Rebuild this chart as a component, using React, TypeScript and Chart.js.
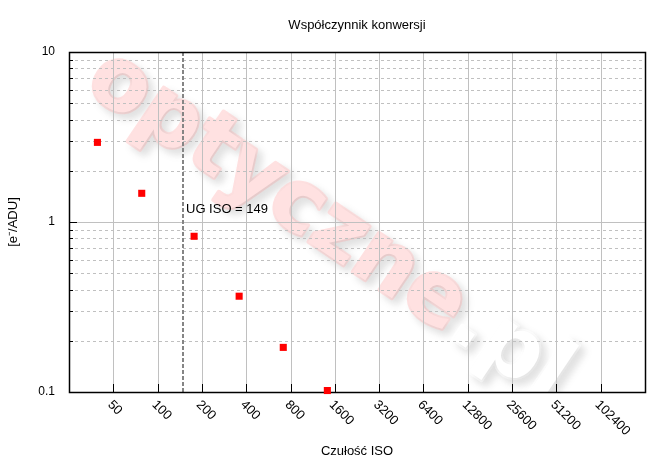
import React, { useEffect, useRef } from 'react';
import { Chart, registerables } from 'chart.js';

Chart.register(...registerables);

// ---- data ----
const isoValues = [39, 78, 177, 358, 714, 1423];
const gainValues = [2.94, 1.475, 0.824, 0.366, 0.183, 0.102];
const xTickValues = [50, 100, 200, 400, 800, 1600, 3200, 6400, 12800, 25600, 51200, 102400];
const xTickLabels = ['50', '100', '200', '400', '800', '1600', '3200', '6400', '12800', '25600', '51200', '102400'];
const yMajorTicks = [0.1, 1, 10];
const yTickLabels = ['0.1', '1', '10'];
const yMinorTicks = [0.2, 0.3, 0.4, 0.5, 0.6, 0.7, 0.8, 0.9, 2, 3, 4, 5, 6, 7, 8, 9];
const xMin = 25;
const xMax = 204800;
const yMin = 0.1;
const yMax = 10;
const unityGainIso = 149;
const unityGainLabel = 'UG ISO = 149';
const chartTitle = 'Współczynnik konwersji';
const xAxisTitle = 'Czułość ISO';
const yAxisTitle = '[e\u207B/ADU]';
const watermarkMain = 'optyczne';
const watermarkSuffix = '.pl';

const FONT = '"Liberation Sans", Arial, sans-serif';

const decorPlugin = {
  id: 'decor',
  beforeDatasetsDraw(chart: any) {
    const ctx: CanvasRenderingContext2D = chart.ctx;
    const { left, right, top, bottom } = chart.chartArea;
    const xs = chart.scales.x;
    const ys = chart.scales.y;
    const snap = (v: number) => Math.round(v) + 0.5;

    // watermark
    ctx.save();
    ctx.beginPath();
    ctx.rect(left, top, right - left, bottom - top);
    ctx.clip();
    ctx.translate(328, 228);
    ctx.rotate((34 * Math.PI) / 180);
    ctx.font = `bold 86px "DejaVu Sans", sans-serif`;
    ctx.textAlign = 'left';
    ctx.textBaseline = 'middle';
    ctx.lineJoin = 'round';
    ctx.lineWidth = 4;
    const w1 = ctx.measureText(watermarkMain).width;
    const w2 = ctx.measureText(watermarkSuffix).width;
    const x0 = -(w1 + w2) / 2;
    const parts: [string, number, string][] = [
      [watermarkMain, x0, '#ffe1e1'],
      [watermarkSuffix, x0 + w1, '#ffffff'],
    ];
    ctx.shadowColor = 'rgba(0,0,0,0.11)';
    ctx.shadowBlur = 9;
    ctx.shadowOffsetX = 5;
    ctx.shadowOffsetY = 5;
    parts.forEach(([t, x, c]) => {
      ctx.fillStyle = c;
      ctx.strokeStyle = c;
      ctx.strokeText(t, x, 0);
      ctx.fillText(t, x, 0);
    });
    ctx.restore();

    // vertical grid
    ctx.save();
    ctx.strokeStyle = '#c0c0c0';
    ctx.lineWidth = 1;
    xTickValues.forEach((v) => {
      const px = snap(xs.getPixelForValue(v));
      ctx.beginPath();
      ctx.moveTo(px, top);
      ctx.lineTo(px, bottom);
      ctx.stroke();
    });
    // major horizontal
    yMajorTicks.forEach((v) => {
      const py = snap(ys.getPixelForValue(v));
      ctx.beginPath();
      ctx.moveTo(left, py);
      ctx.lineTo(right, py);
      ctx.stroke();
    });
    // minor horizontal dashed
    ctx.setLineDash([3, 3]);
    yMinorTicks.forEach((v) => {
      const py = snap(ys.getPixelForValue(v));
      ctx.beginPath();
      ctx.moveTo(left, py);
      ctx.lineTo(right, py);
      ctx.stroke();
    });
    ctx.restore();

    // ticks
    ctx.save();
    ctx.strokeStyle = '#000';
    ctx.lineWidth = 1;
    xTickValues.forEach((v) => {
      const px = snap(xs.getPixelForValue(v));
      ctx.beginPath();
      ctx.moveTo(px, bottom);
      ctx.lineTo(px, bottom - 8);
      ctx.stroke();
    });
    yMajorTicks.forEach((v) => {
      const py = snap(ys.getPixelForValue(v));
      ctx.beginPath();
      ctx.moveTo(left, py);
      ctx.lineTo(left + 8, py);
      ctx.stroke();
    });
    yMinorTicks.forEach((v) => {
      const py = snap(ys.getPixelForValue(v));
      ctx.beginPath();
      ctx.moveTo(left, py);
      ctx.lineTo(left + 4, py);
      ctx.stroke();
    });
    ctx.restore();

    // unity gain line
    ctx.save();
    const ux = Math.round(xs.getPixelForValue(unityGainIso));
    ctx.strokeStyle = '#858585';
    ctx.lineWidth = 2;
    ctx.setLineDash([4, 2]);
    ctx.beginPath();
    ctx.moveTo(ux, top);
    ctx.lineTo(ux, bottom);
    ctx.stroke();
    ctx.restore();

    // annotation
    ctx.save();
    ctx.fillStyle = '#000';
    ctx.font = `13px ${FONT}`;
    ctx.textAlign = 'left';
    ctx.textBaseline = 'alphabetic';
    ctx.fillText(unityGainLabel, ux + 3, 213);
    ctx.restore();

    // border
    ctx.save();
    ctx.strokeStyle = '#000';
    ctx.lineWidth = 1.5;
    ctx.strokeRect(Math.round(left) + 0.5, Math.round(top) + 0.5, Math.round(right - left), Math.round(bottom - top));
    ctx.restore();

    // y tick labels
    ctx.save();
    ctx.fillStyle = '#000';
    ctx.font = `12px ${FONT}`;
    ctx.textAlign = 'right';
    ctx.textBaseline = 'middle';
    yMajorTicks.forEach((v, i) => {
      ctx.fillText(yTickLabels[i], left - 14, ys.getPixelForValue(v));
    });
    ctx.restore();

    // x tick labels (rotated clockwise)
    ctx.save();
    ctx.fillStyle = '#000';
    ctx.font = `13px ${FONT}`;
    ctx.textAlign = 'left';
    ctx.textBaseline = 'top';
    xTickValues.forEach((v, i) => {
      const px = xs.getPixelForValue(v);
      ctx.save();
      ctx.translate(px + 1, bottom + 6);
      ctx.rotate(Math.PI / 4);
      ctx.fillText(xTickLabels[i], 0, 0);
      ctx.restore();
    });
    ctx.restore();

    // titles
    ctx.save();
    ctx.fillStyle = '#000';
    ctx.font = `13px ${FONT}`;
    ctx.textAlign = 'center';
    ctx.textBaseline = 'middle';
    const cx = (left + right) / 2;
    ctx.fillText(chartTitle, cx, 25);
    ctx.fillText(xAxisTitle, cx, 451);
    ctx.translate(13, (top + bottom) / 2);
    ctx.rotate(-Math.PI / 2);
    ctx.fillText(yAxisTitle, 0, 0);
    ctx.restore();
  },
};

export default function App() {
  const canvasRef = useRef<HTMLCanvasElement | null>(null);

  useEffect(() => {
    document.body.style.margin = '0';
    const canvas = canvasRef.current;
    if (!canvas) return;
    const chart = new Chart(canvas, {
      type: 'scatter',
      data: {
        datasets: [
          {
            data: isoValues.map((x, i) => ({ x, y: gainValues[i] })),
            backgroundColor: '#ff0000',
            borderWidth: 0,
            pointStyle: 'rect',
            pointRadius: 5,
            clip: false as any,
          },
        ],
      },
      options: {
        responsive: false,
        animation: false,
        devicePixelRatio: 1,
        layout: { padding: { left: 69, right: 25, top: 52, bottom: 71 } },
        plugins: {
          legend: { display: false },
          title: { display: false },
          tooltip: { enabled: false },
        },
        scales: {
          x: { type: 'logarithmic', min: xMin, max: xMax, display: false },
          y: { type: 'logarithmic', min: yMin, max: yMax, display: false },
        },
      },
      plugins: [decorPlugin],
    });
    return () => chart.destroy();
  }, []);

  return (
    <div style={{ width: 670, height: 463, background: '#fff' }}>
      <canvas ref={canvasRef} width={670} height={463} />
    </div>
  );
}
